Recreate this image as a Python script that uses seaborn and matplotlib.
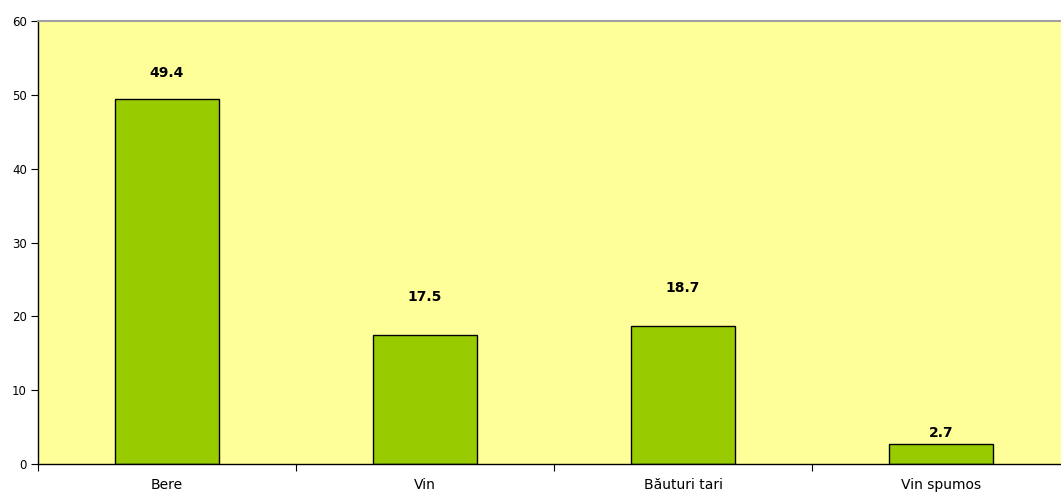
import matplotlib
matplotlib.use("Agg")
import matplotlib.pyplot as plt
import seaborn as sns
import pandas as pd
from matplotlib.ticker import FixedLocator

categories = ["Bere", "Vin", "Băuturi tari", "Vin spumos"]
values = [49.4, 17.5, 18.7, 2.7]
value_labels = ["49.4", "17.5", "18.7", "2.7"]
y_ticks = [0, 10, 20, 30, 40, 50, 60]

# label offsets above bar tops (points), as placed in the original
label_offsets = [18.7, 27.4, 27.4, 7.9]

sns.set_theme(style="white")
plt.rcParams['font.family'] = ['DejaVu Sans']

W, H = 1061, 493
fig = plt.figure(figsize=(W / 100, H / 100), dpi=100)
ax = fig.add_axes([38 / W, (H - 464) / H, 1032 / W, 443 / H])
ax.set_facecolor("#FFFF99")

df = pd.DataFrame({"cat": categories, "val": values})
sns.barplot(data=df, x="cat", y="val", color="#99CC00", edgecolor="black",
            linewidth=1.0, width=0.4, saturation=1, ax=ax)

ax.set_xlim(-0.5, len(categories) - 0.5)
ax.set_ylim(0, 60)
ax.set_yticks(y_ticks)
ax.set_xlabel("")
ax.set_ylabel("")

for i, (v, lab) in enumerate(zip(values, value_labels)):
    ax.annotate(lab, xy=(i, v), xytext=(0, label_offsets[i]), textcoords="offset points",
                ha="center", va="center", fontsize=10, fontweight="bold", color="black")

ax.tick_params(axis="x", which="major", length=0, labelsize=10, pad=10, colors="black")
ax.xaxis.set_minor_locator(FixedLocator([i - 0.5 for i in range(len(categories) + 1)]))
ax.tick_params(axis="x", which="minor", length=5, width=0.8, color="black", direction="out", bottom=True)
ax.tick_params(axis="y", which="major", length=5, width=0.8, color="black", direction="out",
               labelsize=8.5, pad=3, left=True, labelcolor="black")

for s in ["left", "bottom"]:
    ax.spines[s].set_color("black")
    ax.spines[s].set_linewidth(1.0)
ax.spines["top"].set_color("#A0A0A0")
ax.spines["top"].set_linewidth(1.5)
ax.spines["right"].set_visible(False)

fig.savefig("out.png", dpi=100)
